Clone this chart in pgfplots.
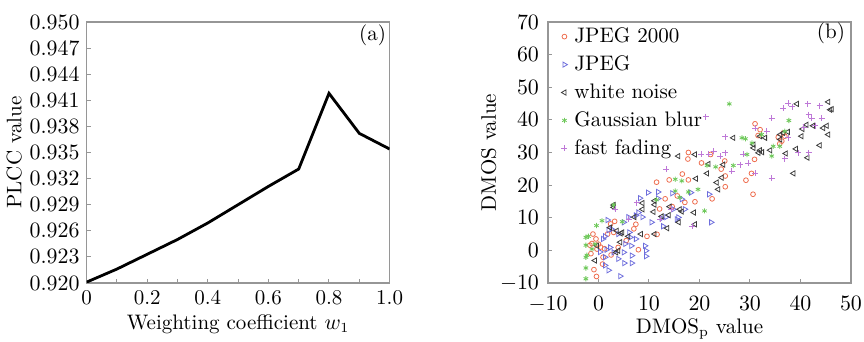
\documentclass[border=0pt]{standalone}
\usepackage{pgfplots}
\pgfplotsset{compat=1.18}
\definecolor{cJtwo}{RGB}{238,110,80}
\definecolor{cJpeg}{RGB}{110,110,220}
\definecolor{cWn}{RGB}{60,60,60}
\definecolor{cGb}{RGB}{110,200,90}
\definecolor{cFf}{RGB}{190,120,215}
\definecolor{frame}{RGB}{150,150,150}
\newcommand{\fs}{\fontsize{10.5}{12.6}\selectfont}
\begin{document}
\begin{tikzpicture}
\path[use as bounding box] (-43.3pt,-29.5pt) rectangle (388.7pt,141.5pt);
\pgfplotsset{every axis/.append style={
  scale only axis, width=151.5pt, height=130.5pt,
  axis line style={frame, line width=0.6pt},
  tick style={frame, line width=0.5pt},
  tick align=inside, tick pos=left,
  major tick length=2.2pt, minor tick length=2.2pt,
  tick label style={font=\fs, text=black},
  label style={font=\fs},
  scaled ticks=false,
}}
\begin{axis}[at={(0,0)}, anchor=south west,
  xmin=0, xmax=1, ymin=0.920, ymax=0.950,
  xtick={0,0.2,0.4,0.6,0.8,1.0},
  xticklabels={0,0.2,0.4,0.6,0.8,1.0},
  minor x tick num=1,
  ytick={0.920,0.923,0.926,0.929,0.932,0.935,0.938,0.941,0.944,0.947,0.950},
  yticklabel style={/pgf/number format/.cd, fixed, fixed zerofill, precision=3},
  xlabel={Weighting coefficient $w_{1}$},
  ylabel={PLCC value},
  xlabel style={yshift=2pt},
  ylabel style={yshift=-3pt},
]
\addplot[black, line width=1.4pt] coordinates {
(0,0.9201) (0.1,0.9216) (0.2,0.9233) (0.3,0.9250) (0.4,0.9269) (0.5,0.9290)
(0.6,0.9311) (0.7,0.9331) (0.8,0.9418) (0.9,0.9372) (1.0,0.9354)};
\node[font=\fs, anchor=center] at (rel axis cs:0.944,0.949) {(a)};
\end{axis}

\begin{axis}[at={(230.7pt,0pt)}, anchor=south west,
  xmin=-10, xmax=50, ymin=-10, ymax=70,
  xtick={-10,0,10,20,30,40,50},
  ytick={-10,0,10,20,30,40,50,60,70},
  xticklabel style={yshift=-3pt},
  yticklabel style={xshift=-1pt},
  xlabel={DMOS$_\mathrm{p}$ value},
  ylabel={DMOS value},
  xlabel style={yshift=3.5pt},
  ylabel style={yshift=-5pt},
  legend style={at={(0.01,0.995)}, anchor=north west, draw=none, fill=none,
    font=\fs, row sep=1.1pt, column sep=1.5pt, inner sep=1pt, xshift=4pt, yshift=1pt},
  legend cell align=left,
  every axis plot/.append style={only marks, line width=0.4pt},
]
\addplot[cJtwo, mark=o, mark size=1.2pt] coordinates {
(17.8,30) (17.7,28) (20.4,26.8) (22.2,29.4) (16.6,23.4) (17.8,21.6) (19.1,14.9)
(22.5,15.8) (11.5,20.9) (14,21.6) (13.2,15.8) (14.6,13.4) (12.1,12.7) (11.6,4.9)
(9.6,4.3) (7.9,0.2) (7.4,8) (7,6.6) (3.2,8.9) (2.4,8.1) (3,5.5) (1.8,5) (-1.1,5)
(-1.3,2.1) (-1.7,1.6) (0,1.9) (0.4,1) (-0.3,0.4) (0.9,-2.1) (-0.9,-5.9) (-0.4,-8)
(0.8,-4.2) (2.5,-1.4) (3.9,0.9) (25.1,22.8) (25.1,19.5) (24.3,24.9) (25,27.4)
(29.2,21.5) (30.3,23.6) (30.6,17.2) (30.9,27.9) (31,38.8) (32,37) (31.6,35.2)
(35.6,34.7) (36.3,33.5) (36.9,35) (35.9,32.7) (36.6,36) (17.1,14.7) (15.6,16.7)
(-1.5,-1) (1.2,0.5) (5.5,3) (-0.5,3.5)};
\addlegendentry{JPEG 2000}
\addplot[cJpeg, mark=triangle, mark size=1.5pt, mark options={rotate=-90}] coordinates {
(8.2,16) (9.8,17.7) (11.8,17.9) (11.8,15.9) (14.6,17.5) (16.5,15.7) (18.3,17.7)
(21.9,17.2) (22.3,8.6) (17.1,12.6) (14.8,12.6) (15.8,10.1) (12.5,9.8) (12.8,7.4)
(10.5,8.6) (8.7,10.2) (7.9,11.6) (5.9,10.2) (7.4,10.7) (5,8.6) (1.8,9.3) (2,6.2)
(2.6,6.5) (3.9,5) (6.1,5.5) (6.5,1.4) (6.6,-1.6) (5,-0.6) (1.3,4.3) (0.9,3.5)
(1.6,0.2) (2.3,0.9) (3,-0.6) (3.9,-2.6) (5.1,-3.9) (6.6,-3.9) (4.3,-7.9) (2,-6.1)
(1.3,-4.6) (9.4,-0.1) (9.4,-1.8) (9.2,1.4) (7.4,3.5) (5.3,2) (6.3,4) (13.4,10.2)
(15.5,9.5) (1.3,-2.1) (0.3,-0.5)};
\addlegendentry{JPEG}
\addplot[cWn, mark=triangle, mark size=1.5pt, mark options={rotate=90}] coordinates {
(39.3,44.9) (45.5,45.5) (46.2,43.3) (45.9,43.1) (45.2,38.2) (45.5,35.5) (44.5,37.5)
(42.5,38.2) (41.2,38.5) (40.4,37.2) (40.2,35) (43.8,32.2) (41.4,28.4) (39.1,31.1)
(37.1,29.7) (38.6,23.6) (36,35.5) (36.6,36) (37.5,36.3) (36,34) (34,30.7) (33,34.5)
(32,35) (30.7,32.4) (30.7,31.4) (31.7,29.9) (32,30.7) (32.4,30.1) (26.7,34.5)
(24.7,26.3) (24.4,22.3) (23.4,20.8) (23.7,18.7) (21.8,26.5) (21.5,23.6) (19.1,29.4)
(15.8,28.9) (19.3,22) (18.9,11.6) (19.1,8) (16.1,12.6) (15.9,8.6) (16.5,11.9)
(14.1,13.4) (13.9,10.8) (13.6,6.8) (11.1,5) (12.5,10.4) (11.1,15.2) (11.1,14)
(10.9,11.8) (8.7,14.5) (8.7,12.6) (8.4,5) (7.1,10.2) (5.9,4.3) (4.7,5.5) (4.4,5.2)
(3,13.9) (3,13.2) (2.3,7) (3.6,6) (4.3,2.5) (3.9,-0.1) (3.5,-0.6) (-0.3,1.4) (-0.7,-3.1)};
\addlegendentry{white noise}
\addplot[cGb, mark=asterisk, mark size=1.3pt] coordinates {
(25.9,44.9) (37.7,39.8) (36.9,36.5) (32.3,35.5) (34.6,31.9) (35.9,31.9) (34.3,28.9)
(29.4,29.4) (28.4,34.5) (29.1,34.2) (30.4,32.9) (26.7,26) (21.5,26) (23.2,25.6)
(15.2,21.8) (16.5,21.3) (17.8,17.9) (15.2,18.2) (19.7,18.7) (21,12.1) (16.1,16.2)
(3,13.9) (4.7,8.8) (0.7,9.1) (-0.4,7.6) (-2,4.3) (-2.5,4) (-2.5,1.6) (-2.5,-2.1)
(-2.5,-5.4) (-2.5,-8.7) (-1.3,0.4) (-0.7,1.9) (-2.3,-1.5) (11.5,15.5)};
\addlegendentry{Gaussian blur}
\addplot[cFf, mark=+, mark size=1.5pt] coordinates {
(21.2,41) (36.6,43.6) (37.6,45.1) (38.3,44.1) (41.4,44.9) (43.8,44.3) (41.6,41.6)
(42.2,40.6) (44.2,40.6) (40.6,37.7) (34.3,40.6) (31,37.5) (33.3,36.5) (37.6,34.5)
(39.6,29.9) (36.9,28.1) (34.3,22.1) (31,23.6) (28.7,29.4) (29.6,26.8) (28.1,26.3)
(26.4,24.3) (25.1,34.8) (25.1,29.9) (24.1,28.9) (22.8,30.4) (21.8,29.4) (20.3,29.4)
(13.4,24.8) (12.2,9.6) (18.5,7.5) (7.6,14.6) (14.4,12.7) (6,9.6) (3.3,12.6)
(41.6,29.9) (42.9,38.2)};
\addlegendentry{fast fading}
\node[font=\fs, anchor=center] at (rel axis cs:0.934,0.958) {(b)};
\end{axis}
\end{tikzpicture}
\end{document}
